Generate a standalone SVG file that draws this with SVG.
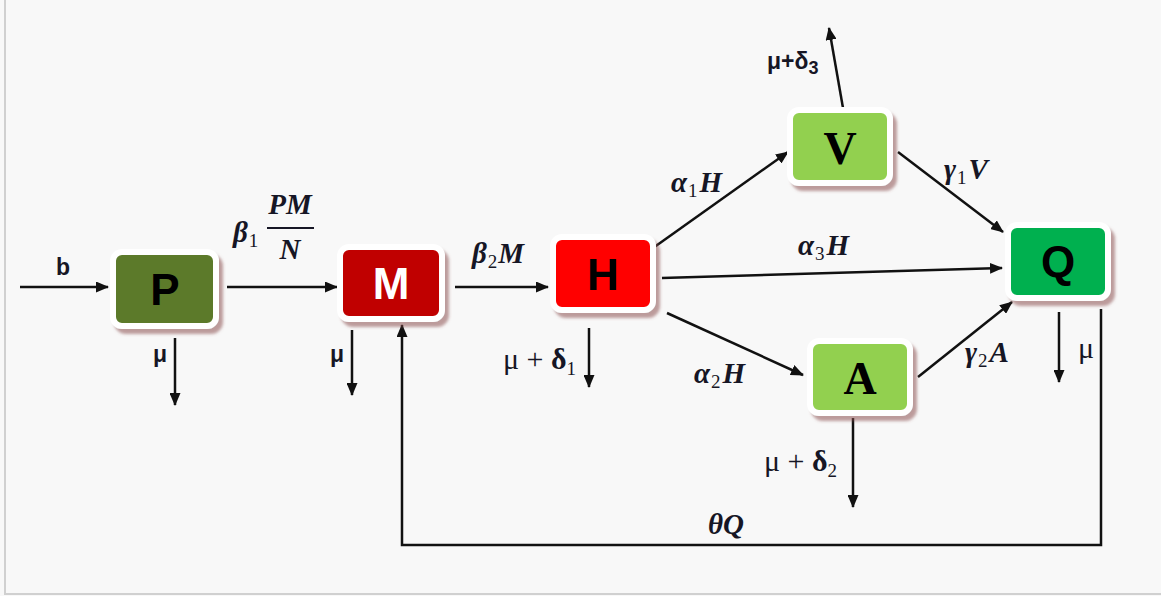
<svg xmlns="http://www.w3.org/2000/svg" width="1161" height="596" viewBox="0 0 1161 596">
<defs>
<style>
.box{stroke:#ffffff;stroke-width:6;filter:url(#sh)}
.lbl{font-family:"Liberation Sans",Arial,sans-serif;font-weight:bold;font-size:44px;text-anchor:middle}
.slbl{font-family:"Liberation Serif","Times New Roman",serif;font-weight:bold;font-size:46px;text-anchor:middle}
.ln{stroke:#111;stroke-width:2.5;fill:none}
.arr{marker-end:url(#ah)}
.m{font-family:"Liberation Serif","Times New Roman",serif;font-style:italic;font-weight:bold;font-size:29px;fill:#161625}
.s{font-family:"Liberation Sans",Arial,sans-serif;font-weight:bold;font-size:23px;fill:#161625}
.r{font-family:"Liberation Serif","Times New Roman",serif;font-size:30px;fill:#161625}
.sub{font-size:19px;font-style:normal;font-weight:normal}
.ssub{font-size:18px}
</style>
<filter id="sh" x="-20%" y="-20%" width="150%" height="150%">
<feDropShadow dx="4" dy="5" stdDeviation="1.5" flood-color="#8a5050" flood-opacity="0.55"/>
</filter>
<marker id="ah" markerUnits="userSpaceOnUse" markerWidth="13" markerHeight="11" refX="12" refY="5.5" orient="auto">
<path d="M0,0 L13,5.5 L0,11 z" fill="#111"/>
</marker>
</defs>
<rect x="0" y="0" width="1161" height="596" fill="#f8f8f8"/>
<rect x="4" y="0" width="2" height="594" fill="#d0d0d0"/>
<rect x="4" y="593" width="1157" height="2" fill="#d0d0d0"/>

<g id="connectors">
<line class="ln arr" x1="20" y1="287" x2="108" y2="287"/>
<line class="ln arr" x1="227" y1="287" x2="337" y2="287"/>
<line class="ln arr" x1="175" y1="338" x2="175" y2="405"/>
<line class="ln arr" x1="352" y1="330" x2="352" y2="395"/>
<polyline class="ln arr" points="1101,309 1101,545 402,545 402,325"/>
<line class="ln arr" x1="455" y1="287" x2="548" y2="287"/>
<line class="ln arr" x1="653" y1="248" x2="788" y2="152"/>
<line class="ln arr" x1="662" y1="278" x2="1002" y2="268"/>
<line class="ln arr" x1="667" y1="313" x2="803" y2="375"/>
<line class="ln arr" x1="589" y1="328" x2="589" y2="387"/>
<line class="ln arr" x1="843" y1="108" x2="829" y2="28"/>
<line class="ln arr" x1="898" y1="152" x2="1003" y2="232"/>
<line class="ln arr" x1="918" y1="377" x2="1012" y2="302"/>
<line class="ln arr" x1="1059" y1="312" x2="1059" y2="382"/>
<line class="ln arr" x1="853" y1="418" x2="853" y2="507"/>
</g>

<g id="labels">
<text class="s" x="63" y="275" text-anchor="middle">b</text>
<text class="m" x="233" y="242">β<tspan class="sub" dx="1" dy="5">1</tspan></text>
<text class="m" x="290" y="214" text-anchor="middle">PM</text>
<line x1="267" y1="228" x2="314" y2="228" stroke="#161625" stroke-width="2"/>
<text class="m" x="290" y="259" text-anchor="middle">N</text>
<text class="s" x="160" y="362" text-anchor="middle">μ</text>
<text class="s" x="337" y="362" text-anchor="middle">μ</text>
<text class="m" x="472" y="263">β<tspan class="sub" dx="1" dy="5">2</tspan><tspan dx="1" dy="-5">M</tspan></text>
<text class="r" x="503" y="369">μ + <tspan font-weight="bold">δ</tspan><tspan class="sub" dy="6">1</tspan></text>
<text class="m" x="671" y="192">α<tspan class="sub" dx="1" dy="5">1</tspan><tspan dx="2" dy="-5">H</tspan></text>
<text class="m" x="798" y="255">α<tspan class="sub" dx="1" dy="5">3</tspan><tspan dx="2" dy="-5">H</tspan></text>
<text class="m" x="694" y="383">α<tspan class="sub" dx="1" dy="5">2</tspan><tspan dx="2" dy="-5">H</tspan></text>
<text class="s" x="767" y="69" font-size="25">μ+δ<tspan class="ssub" dy="5">3</tspan></text>
<text class="m" x="944" y="179">γ<tspan class="sub" dx="1" dy="5">1</tspan><tspan dx="2" dy="-5">V</tspan></text>
<text class="m" x="965" y="362">γ<tspan class="sub" dx="1" dy="5">2</tspan><tspan dx="2" dy="-5">A</tspan></text>
<text class="r" x="1086" y="358" text-anchor="middle">μ</text>
<text class="r" x="764" y="471">μ + <tspan font-weight="bold">δ</tspan><tspan class="sub" dy="6">2</tspan></text>
<text class="m" x="726" y="534" text-anchor="middle">θQ</text>
</g>

<g id="node-P">
<rect class="box" x="113" y="252" width="103" height="74" rx="9" fill="#5b7a29"/>
<text class="lbl" x="165" y="305" fill="#000">P</text>
</g>
<g id="node-M">
<rect class="box" x="340" y="247" width="102" height="72" rx="9" fill="#c00000"/>
<text class="lbl" x="391" y="299" fill="#fff">M</text>
</g>
<g id="node-H">
<rect class="box" x="553" y="237" width="100" height="73" rx="9" fill="#ff0000"/>
<text class="lbl" x="603" y="290" fill="#000">H</text>
</g>
<g id="node-V">
<rect class="box" x="790" y="110" width="100" height="73" rx="9" fill="#92d050"/>
<text class="slbl" x="840" y="164" fill="#000">V</text>
</g>
<g id="node-Q">
<rect class="box" x="1008" y="225" width="100" height="73" rx="9" fill="#00b050"/>
<text class="lbl" x="1058" y="277" fill="#000">Q</text>
</g>
<g id="node-A">
<rect class="box" x="810" y="341" width="100" height="72" rx="9" fill="#92d050"/>
<text class="slbl" x="860" y="394" fill="#000">A</text>
</g>
</svg>
